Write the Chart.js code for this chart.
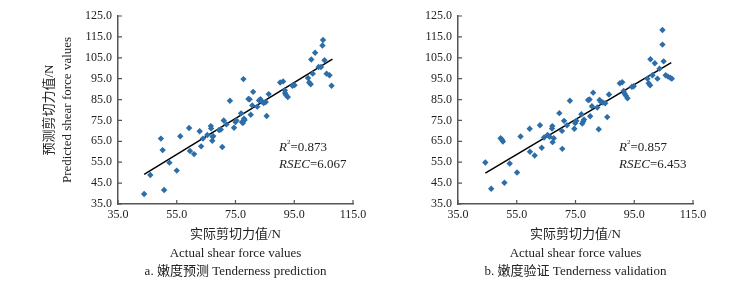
<!DOCTYPE html>
<html><head><meta charset="utf-8">
<script src="https://cdn.jsdelivr.net/npm/chart.js@4.4.1/dist/chart.umd.min.js"></script>
<style>
html,body{margin:0;padding:0;background:#fff;width:729px;height:287px;overflow:hidden}
#wrapA{position:absolute;left:0;top:0;width:380px;height:287px}
#wrapB{position:absolute;left:360px;top:0;width:369px;height:287px}
</style></head><body>
<div id="wrapA"><canvas id="cA" width="380" height="287"></canvas></div>
<div id="wrapB"><canvas id="cB" width="369" height="287"></canvas></div>
<script>
// ---- data ----
const predActual = [43.9,46.0,49.6,50.2,50.7,52.5,55.0,56.2,59.2,59.5,60.9,62.8,63.3,63.9,65.4,66.6,66.7,67.1,67.2,67.4,69.4,70.0,70.5,71.0,71.9,73.1,74.5,75.0,75.3,76.9,77.2,77.5,77.7,77.9,78.1,79.4,79.8,80.2,80.7,81.0,82.4,83.0,83.5,84.0,84.6,85.3,85.6,86.3,90.2,91.2,91.8,91.9,92.1,92.8,94.4,95.1,99.7,100.1,100.6,100.8,101.3,102.1,103.3,104.1,104.6,104.8,105.3,106.0,107.0,107.7];
const predPredicted = [39.8,48.9,66.3,60.8,41.7,54.8,51.0,67.4,71.4,60.4,58.9,69.8,62.6,66.3,68.0,72.3,71.2,65.3,67.2,67.5,70.4,70.7,62.3,75.0,73.1,84.4,71.5,74.2,75.0,78.4,74.2,73.8,94.8,75.8,75.2,85.3,85.1,77.7,82.2,88.7,81.6,84.6,85.2,84.0,83.3,83.8,77.1,87.6,93.2,93.7,89.4,88.1,87.3,86.2,91.6,91.9,95.3,93.2,92.3,104.2,97.4,107.4,100.6,100.6,110.9,113.5,103.8,97.4,96.6,91.6];
const predFitX = [43.9, 108.0];
const predFitY = [49.2, 104.4];

const valActual = [44.3,46.3,49.5,49.9,50.3,50.8,52.6,55.1,56.3,59.4,59.5,61.1,62.9,63.5,64.3,65.5,66.2,67.0,67.1,67.2,67.6,69.5,70.4,70.5,71.1,72.1,73.1,74.6,74.9,75.3,77.0,77.3,77.6,77.9,79.3,79.8,80.0,80.6,81.0,82.4,82.9,83.2,83.6,84.3,85.1,85.8,86.4,90.1,90.9,91.4,91.7,92.1,92.7,94.2,94.8,99.5,99.9,100.4,100.5,101.2,102.0,102.9,103.6,104.6,104.6,105.0,105.7,106.5,107.3,107.8];
const valPredicted = [54.9,42.3,66.5,65.9,64.9,45.2,54.4,50.1,67.3,71.0,60.0,58.2,72.7,61.9,66.8,68.0,67.2,71.1,72.3,64.6,66.5,78.5,70.0,61.4,74.8,72.7,84.4,71.0,73.7,74.8,78.0,73.5,74.5,75.4,84.8,85.0,77.0,81.8,88.3,81.2,70.8,84.8,84.0,83.6,83.2,76.6,87.4,92.8,93.3,89.1,87.9,86.9,85.6,91.1,91.4,95.0,92.8,91.8,104.3,96.6,102.4,95.0,99.8,118.3,111.3,103.3,96.6,96.0,95.4,95.0];
const valFitX = [44.3, 107.6];
const valFitY = [49.8, 102.7];

const xTickValues = [35, 55, 75, 95, 115];
const yTickValues = [35, 45, 55, 65, 75, 85, 95, 105, 115, 125];

const statsPred = {r2: '0.873', rsec: '6.067'};
const statsVal  = {r2: '0.857', rsec: '6.453'};

const yTitleLines = ['预测剪切力值/N', 'Predicted shear force values'];
const xTitlePred = ['实际剪切力值/N', 'Actual shear force values', 'a. 嫩度预测 Tenderness prediction'];
const xTitleVal  = ['实际剪切力值/N', 'Actual shear force values', 'b. 嫩度验证 Tenderness validation'];

// ---- styles / layout ----
const FONT = "'Liberation Serif','Noto Sans CJK SC',serif";
const POINT_COLOR = '#2d6ea9';
const AXIS_COLOR = '#555555';
const TEXT_COLOR = '#222222';
const ANNO_POS = {x: 89.8, y1: 62.1, y2: 54.0};

Chart.defaults.font.family = FONT;
Chart.defaults.color = TEXT_COLOR;

const decor = {
  id: 'decor',
  afterDraw(chart, args, opts) {
    const ctx = chart.ctx, xs = chart.scales.x, ys = chart.scales.y, a = chart.chartArea;
    ctx.save();
    ctx.strokeStyle = AXIS_COLOR;
    ctx.lineWidth = 1.2;
    ctx.beginPath();
    xs.ticks.forEach(t => { const px = xs.getPixelForValue(t.value); ctx.moveTo(px, a.bottom); ctx.lineTo(px, a.bottom - 4); });
    ys.ticks.forEach(t => { const py = ys.getPixelForValue(t.value); ctx.moveTo(a.left, py); ctx.lineTo(a.left + 4, py); });
    ctx.stroke();
    // statistics annotation
    const st = opts.stats;
    ctx.fillStyle = TEXT_COLOR;
    ctx.textBaseline = 'middle';
    ctx.textAlign = 'left';
    let px = xs.getPixelForValue(ANNO_POS.x);
    let py = ys.getPixelForValue(ANNO_POS.y1);
    ctx.font = 'italic 13px ' + FONT;
    ctx.fillText('R', px, py); px += ctx.measureText('R').width;
    ctx.font = '7px ' + FONT;
    ctx.fillText('2', px, py - 5); px += ctx.measureText('2').width;
    ctx.font = '13px ' + FONT;
    ctx.fillText('=' + st.r2, px, py);
    px = xs.getPixelForValue(ANNO_POS.x);
    py = ys.getPixelForValue(ANNO_POS.y2);
    ctx.font = 'italic 13px ' + FONT;
    ctx.fillText('RSEC', px, py); px += ctx.measureText('RSEC').width;
    ctx.font = '13px ' + FONT;
    ctx.fillText('=' + st.rsec, px, py);
    ctx.restore();
  }
};

function makeChart(id, xs, ys, fx, fy, stats, xTitle, withYTitle, yAxisWidth, padLeft, padRight) {
  return new Chart(document.getElementById(id), {
    type: 'scatter',
    data: {
      datasets: [
        {
          data: xs.map((v, i) => ({x: v, y: ys[i]})),
          pointStyle: 'rectRot', pointRadius: 3.2, pointHoverRadius: 3.2,
          backgroundColor: POINT_COLOR, borderColor: POINT_COLOR, borderWidth: 0
        },
        {
          type: 'line',
          data: fx.map((v, i) => ({x: v, y: fy[i]})),
          borderColor: '#000', borderWidth: 1.5, pointRadius: 0, fill: false, tension: 0
        }
      ]
    },
    options: {
      responsive: false, animation: false, devicePixelRatio: 1,
      layout: {padding: {top: 16, left: padLeft, right: padRight, bottom: 0}},
      plugins: {legend: {display: false}, tooltip: {enabled: false}, decor: {stats: stats}},
      scales: {
        x: {
          type: 'linear', min: 35, max: 115,
          afterBuildTicks: s => { s.ticks = xTickValues.map(v => ({value: v})); },
          afterFit: s => { s.height = 83; },
          grid: {display: false, drawTicks: false},
          border: {display: true, color: AXIS_COLOR, width: 1.5},
          ticks: {font: {size: 12}, padding: 4, color: TEXT_COLOR, maxRotation: 0, autoSkip: false,
                  callback: v => Number(v).toFixed(1)},
          title: {display: true, text: xTitle, font: {size: 13, lineHeight: 18.5 / 13}, color: TEXT_COLOR,
                  padding: {top: 0, bottom: 5.75}}
        },
        y: {
          type: 'linear', min: 35, max: 125,
          afterBuildTicks: s => { s.ticks = yTickValues.map(v => ({value: v})); },
          afterFit: s => { s.width = yAxisWidth; },
          grid: {display: false, drawTicks: false},
          border: {display: true, color: AXIS_COLOR, width: 1.5},
          ticks: {font: {size: 12}, padding: 6, color: TEXT_COLOR, autoSkip: false,
                  callback: v => Number(v).toFixed(1)},
          title: {display: withYTitle, text: yTitleLines, font: {size: 13, lineHeight: 18 / 13}, color: TEXT_COLOR,
                  padding: {top: 0, bottom: 0}}
        }
      }
    },
    plugins: [decor]
  });
}

makeChart('cA', predActual, predPredicted, predFitX, predFitY, statsPred, xTitlePred, true, 77, 41, 27);
makeChart('cB', valActual, valPredicted, valFitX, valFitY, statsVal, xTitleVal, false, 98, 0, 36);
</script>
</body></html>
